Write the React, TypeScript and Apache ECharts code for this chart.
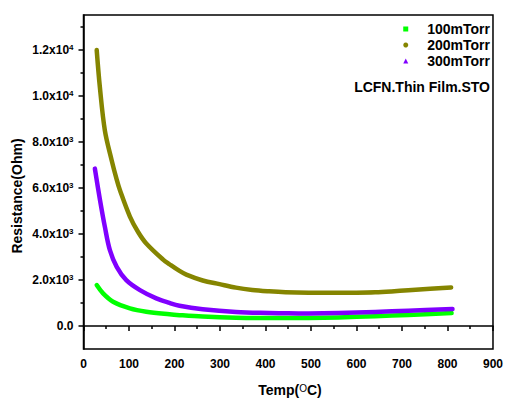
import React, { useEffect, useRef } from "react";
import * as echarts from "echarts";

// ---- Data ----
const temp100 = [29, 43, 65, 102, 138, 189, 211, 262, 335, 408, 450, 495, 560, 641, 714, 809];
const res100 = [1775, 1415, 1052, 766, 620, 505, 470, 410, 362, 348, 345, 350, 372, 425, 476, 563];

const temp200 = [29, 36, 47, 62, 73, 80, 102, 120, 138, 175, 189, 211, 226, 262, 299, 335, 371, 408, 444, 495, 540, 600, 641, 677, 714, 762, 808];
const res200 = [11980, 10360, 8485, 7186, 6350, 5900, 4750, 4080, 3580, 2880, 2680, 2390, 2230, 1975, 1815, 1665, 1565, 1505, 1465, 1443, 1440, 1445, 1462, 1500, 1552, 1612, 1672];

const temp300 = [25, 36, 47, 58, 73, 94, 124, 160, 189, 211, 262, 335, 408, 450, 495, 560, 641, 714, 811];
const res300 = [6830, 5500, 4300, 3290, 2567, 1991, 1558, 1198, 1000, 880, 730, 610, 565, 550, 543, 558, 606, 664, 736];

const seriesNames = ["100mTorr", "200mTorr", "300mTorr"];
const seriesColors = ["#00ff00", "#858500", "#8000ff"];
const legendIcons = ["rect", "circle", "triangle"];
const majorYTicks = [0, 2000, 4000, 6000, 8000, 10000, 12000];
const minorYTicks = [1000, 3000, 5000, 7000, 9000, 11000, 13000];
const annotation = "LCFN.Thin Film.STO";

const FONT = "'Liberation Sans', Arial, Helvetica, sans-serif";

function pairs(xs: number[], ys: number[]) {
  return xs.map((x, i) => [x, ys[i]]);
}

function fmtY(v: number) {
  if (v === 0) return "{b|0.0}";
  const e = Math.floor(Math.log10(v) + 1e-9);
  const m = v / Math.pow(10, e);
  return `{b|${m.toFixed(1)}x10}{s|${e}}`;
}

export default function App() {
  const ref = useRef<HTMLDivElement>(null);
  useEffect(() => {
    if (!ref.current) return;
    const chart = echarts.init(ref.current, undefined, { renderer: "svg" });
    const datasets = [pairs(temp100, res100), pairs(temp200, res200), pairs(temp300, res300)];
    const option: any = {
      animation: false,
      backgroundColor: "#fff",
      grid: {
        left: 83.5,
        top: 15,
        right: 10.5,
        bottom: 50,
        show: true,
        borderColor: "#000",
        borderWidth: 1.5,
        containLabel: false,
      },
      legend: {
        orient: "vertical",
        right: 16,
        top: 21,
        padding: 0,
        itemGap: 0,
        itemWidth: 5,
        itemHeight: 5,
        align: "left",
        textStyle: {
          fontFamily: FONT,
          fontSize: 14,
          fontWeight: "bold",
          color: "#000",
          lineHeight: 16,
          padding: [0, 0, 0, 14],
        },
        data: seriesNames.map((n, i) => ({ name: n, icon: legendIcons[i], itemStyle: { color: seriesColors[i] } })),
      },
      xAxis: {
        type: "value",
        min: 0,
        max: 900,
        interval: 100,
        axisLine: { show: true, lineStyle: { color: "#000", width: 1.5 } },
        axisTick: { show: true, inside: false, length: 5, lineStyle: { color: "#000", width: 1.5 } },
        minorTick: { show: true, splitNumber: 2, length: 3, lineStyle: { color: "#000", width: 1.5 } },
        splitLine: { show: false },
        axisLabel: {
          margin: 9,
          fontFamily: FONT,
          fontSize: 12,
          fontWeight: "bold",
          color: "#000",
          showMaxLabel: true,
          showMinLabel: true,
        },
      },
      yAxis: [
        {
          type: "value",
          min: -1000,
          max: 13500,
          interval: 1000,
          axisLine: { show: true, lineStyle: { color: "#000", width: 1.5 } },
          axisTick: { show: true, length: 5, customValues: majorYTicks, lineStyle: { color: "#000", width: 1.5 } },
          splitLine: { show: false },
          axisLabel: {
            margin: 10,
            customValues: majorYTicks,
            formatter: (v: number) => fmtY(v),
            rich: {
              b: { fontFamily: FONT, fontSize: 12, fontWeight: "bold", color: "#000" },
              s: { fontFamily: FONT, fontSize: 8, fontWeight: "bold", color: "#000", verticalAlign: "top", padding: [0, 0, 4, 0] },
            },
          },
        },
        {
          type: "value",
          min: -1000,
          max: 13500,
          interval: 1000,
          position: "left",
          axisLine: { show: false },
          axisTick: { show: true, length: 3, customValues: minorYTicks, lineStyle: { color: "#000", width: 1.5 } },
          axisLabel: { show: false },
          splitLine: { show: false },
        },
      ],
      series: seriesNames.map((n, i) => ({
        name: n,
        type: "line",
        yAxisIndex: 0,
        data: datasets[i],
        smooth: 0.35,
        showSymbol: false,
        symbol: legendIcons[i],
        itemStyle: { color: seriesColors[i] },
        lineStyle: { color: seriesColors[i], width: 4.5, cap: "round", join: "round" },
        z: 2 + i,
      })),
      graphic: [
        {
          type: "text",
          x: 490,
          y: 87,
          style: {
            text: annotation,
            fontFamily: FONT,
            fontSize: 14,
            fontWeight: "bold",
            fill: "#000",
            align: "right",
            verticalAlign: "middle",
            textAlign: "right",
            textVerticalAlign: "middle",
          },
        },
        {
          type: "text",
          x: 17,
          y: 196,
          rotation: Math.PI / 2,
          style: {
            text: "Resistance(Ohm)",
            fontFamily: FONT,
            fontSize: 14,
            fontWeight: "bold",
            fill: "#000",
            align: "center",
            verticalAlign: "middle",
            textAlign: "center",
            textVerticalAlign: "middle",
          },
        },
        {
          type: "text",
          x: 290,
          y: 390,
          style: {
            text: "{a|Temp(}{s|O}{a|C)}",
            fill: "#000",
            align: "center",
            verticalAlign: "middle",
            textAlign: "center",
            textVerticalAlign: "middle",
            rich: {
              a: { fontFamily: FONT, fontSize: 14, fontWeight: "bold", fill: "#000", color: "#000" },
              s: { fontFamily: FONT, fontSize: 10, fill: "#000", color: "#000", verticalAlign: "top" },
            },
          },
        },
      ],
    };
    chart.setOption(option);
    return () => chart.dispose();
  }, []);
  return (
    <div
      ref={ref}
      style={{ position: "fixed", left: 0, top: 0, width: 506, height: 399, background: "#fff" }}
    />
  );
}
